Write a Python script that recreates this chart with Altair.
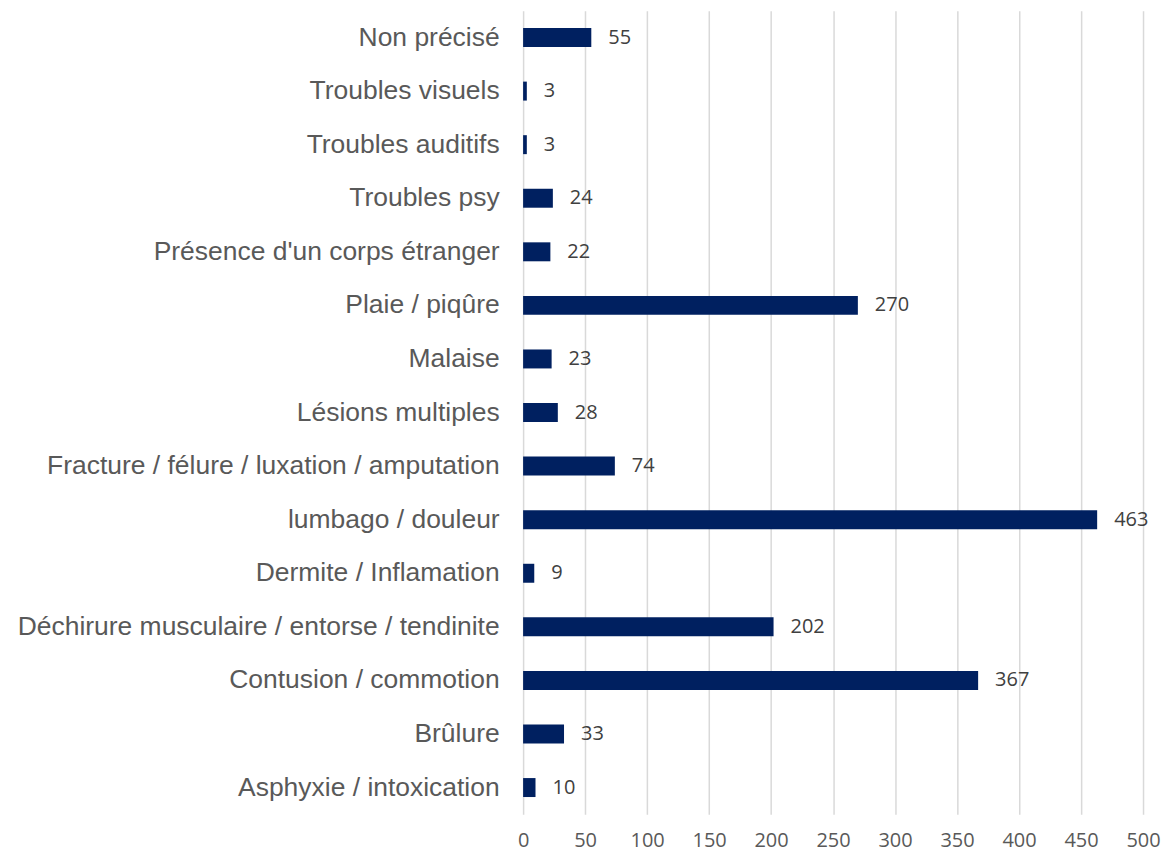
import altair as alt
import pandas as pd

categories = [
    "Non précisé ",
    "Troubles visuels",
    "Troubles auditifs",
    "Troubles psy",
    "Présence d'un corps étranger",
    "Plaie / piqûre",
    "Malaise",
    "Lésions multiples",
    "Fracture / félure / luxation / amputation",
    "lumbago / douleur",
    "Dermite / Inflamation",
    "Déchirure musculaire / entorse / tendinite",
    "Contusion / commotion",
    "Brûlure",
    "Asphyxie / intoxication",
]
values = [55, 3, 3, 24, 22, 270, 23, 28, 74, 463, 9, 202, 367, 33, 10]
x_ticks = [0, 50, 100, 150, 200, 250, 300, 350, 400, 450, 500]

df = pd.DataFrame({"cat": categories, "val": values})

y_enc = alt.Y(
    "cat:N",
    sort=categories,
    title=None,
    scale=alt.Scale(paddingInner=0.646, paddingOuter=0.323),
    axis=alt.Axis(
        labelFont="Liberation Sans",
        labelFontSize=26.5,
        labelColor="#595959",
        labelPadding=24,
        ticks=False,
        domain=False,
        grid=False,
        labelLimit=700,
    ),
)

x_enc = alt.X(
    "val:Q",
    title=None,
    scale=alt.Scale(domain=[0, 500], nice=False),
    axis=alt.Axis(
        values=x_ticks,
        labelFont="Open Sans",
        labelFontSize=20,
        labelColor="#595959",
        labelPadding=16,
        labelFlush=False,
        ticks=False,
        domain=False,
        grid=True,
        gridColor="#d9d9d9",
        gridWidth=1.5,
    ),
)

bars = alt.Chart(df).mark_bar(color="#002060").encode(x=x_enc, y=y_enc)
labels = alt.Chart(df).mark_text(
    align="left", baseline="middle", dx=17, font="Open Sans", fontSize=20, color="#404040"
).encode(x="val:Q", y=alt.Y("cat:N", sort=categories), text="val:Q")

chart = (
    alt.layer(bars, labels)
    .properties(width=621, height=805, padding={"left": 8, "top": 2, "right": 0, "bottom": 5})
    .configure(background="white")
    .configure_view(strokeWidth=0)
)

chart.save("out.html", embed_options={"renderer": "svg", "actions": False})
